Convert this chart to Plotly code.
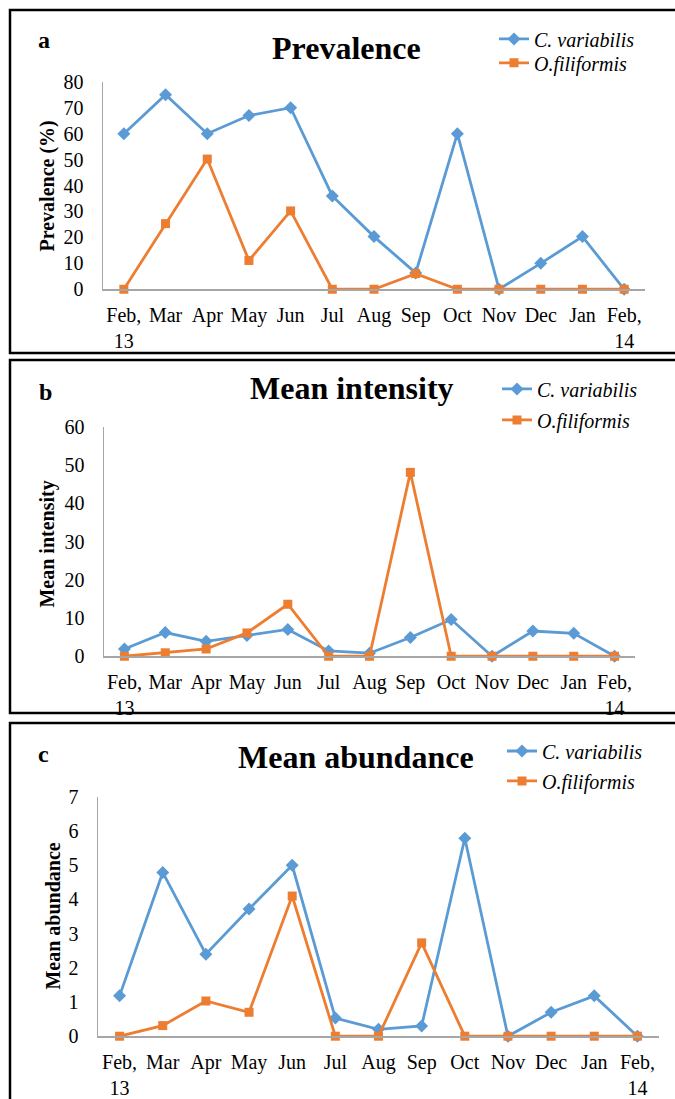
import plotly.graph_objects as go

W, H = 675, 1099

months = ["Feb,<br>13", "Mar", "Apr", "May", "Jun", "Jul", "Aug", "Sep",
          "Oct", "Nov", "Dec", "Jan", "Feb,<br>14"]

prev_cv = [60, 75, 60, 67, 70, 36, 20.3, 6.3, 60, 0, 10, 20.3, 0]
prev_of = [0, 25.3, 50.2, 11.1, 30.2, 0, 0, 6, 0, 0, 0, 0, 0]

int_cv = [1.9, 6.2, 3.9, 5.4, 7.0, 1.4, 0.8, 4.9, 9.6, 0, 6.6, 6.0, 0]
int_of = [0, 0.9, 1.9, 6.1, 13.6, 0, 0, 48.1, 0, 0, 0, 0, 0]

abd_cv = [1.18, 4.79, 2.4, 3.72, 5.0, 0.53, 0.2, 0.3, 5.79, 0, 0.7, 1.18, 0]
abd_of = [0, 0.31, 1.03, 0.7, 4.1, 0, 0, 2.73, 0, 0, 0, 0, 0]

series_names = ["C. variabilis", "O.filiformis"]
panel_titles = ["Prevalence", "Mean intensity", "Mean abundance"]
panel_letters = ["a", "b", "c"]
y_titles = ["Prevalence (%)", "Mean intensity", "Mean abundance"]
y_ranges = [(0, 80, 10), (0, 60, 10), (0, 7, 1)]

BLUE = "#5B9BD5"
ORANGE = "#ED7D31"
AXIS = "#A6A6A6"
FONT = "Liberation Serif"

# the page is photographed slightly squeezed vertically; map target pixel
# rows to layout rows so that the photographed picture lands on target
Y_OFF, Y_SCALE = 10.0, 0.979


def fx(px):
    return px / W


def fy(py):
    return 1 - ((py - Y_OFF) / Y_SCALE) / H


# plot-area geometry in pixels: (x0, x1, ytop, ybottom)
geo = [(103, 645, 81, 289), (104, 635, 427, 657), (98, 659, 798, 1038)]
# panel boxes (top, bottom)
boxes = [(9, 353), (360, 714), (724, 1120)]
title_pos = [(346, 47), (352, 388), (356, 758)]
letter_pos = [(44, 39), (45, 392), (44, 755)]
ytitle_pos = [(48, 186), (48, 545), (53, 918)]
# legend entries: (x of line start, y centre) for each series per panel
legend_pos = [[(499, 38), (499, 62)],
              [(502, 389), (502, 420)],
              [(507, 752), (507, 782)]]

data_sets = [(prev_cv, prev_of), (int_cv, int_of), (abd_cv, abd_of)]
colors = [BLUE, ORANGE]
symbols = ["diamond", "square"]
msizes = [10, 9]

fig = go.Figure()
layout = dict(
    width=W, height=H,
    margin=dict(l=0, r=0, t=0, b=0),
    paper_bgcolor="white", plot_bgcolor="white",
    font=dict(family=FONT, size=20, color="black"),
    showlegend=True,
    shapes=[], annotations=[],
)

leg_idx = 0
for i in range(3):
    sfx = "" if i == 0 else str(i + 1)
    xa = "x" + sfx
    ya = "y" + sfx
    for s in range(2):
        leg_idx += 1
        lg = "legend" if leg_idx == 1 else "legend%d" % leg_idx
        fig.add_trace(go.Scatter(
            x=months, y=data_sets[i][s], name=series_names[s],
            xaxis=xa, yaxis=ya, mode="lines+markers", legend=lg,
            showlegend=True,
            line=dict(color=colors[s], width=2.8),
            marker=dict(symbol=symbols[s], size=msizes[s], color=colors[s]),
            cliponaxis=False))
        lx, ly = legend_pos[i][s]
        layout[lg] = dict(
            x=fx(lx - 5), y=fy(ly), xanchor="left", yanchor="middle",
            xref="paper", yref="paper", visible=True,
            bgcolor="rgba(0,0,0,0)", borderwidth=0,
            font=dict(family=FONT, size=20, color="black", style="italic"),
            itemclick=False, itemdoubleclick=False)

    x0, x1, yt, yb = geo[i]
    r0, r1, dt = y_ranges[i]
    layout["xaxis" + sfx] = dict(
        domain=[fx(x0), fx(x1)], anchor=ya, type="category",
        range=[-0.5, len(months) - 0.5],
        showline=True, linecolor=AXIS, linewidth=1.5,
        showgrid=False, zeroline=False, ticks="",
        tickfont=dict(family=FONT, size=20, color="black"),
        ticklabelstandoff=7, fixedrange=True)
    layout["yaxis" + sfx] = dict(
        domain=[fy(yb), fy(yt)], anchor=xa,
        range=[r0, r1], dtick=dt, tick0=0,
        showline=True, linecolor=AXIS, linewidth=1.5,
        showgrid=False, zeroline=False, ticks="",
        tickfont=dict(family=FONT, size=20, color="black"),
        ticklabelstandoff=14, fixedrange=True)

    bt, bb = boxes[i]
    layout["shapes"].append(dict(
        type="rect", xref="paper", yref="paper",
        x0=fx(10), x1=fx(700), y0=fy(bb), y1=fy(bt),
        line=dict(color="black", width=2.5), fillcolor="rgba(0,0,0,0)",
        layer="above"))

    tx, ty = title_pos[i]
    layout["annotations"].append(dict(
        text="<b>%s</b>" % panel_titles[i], x=fx(tx), y=fy(ty),
        xref="paper", yref="paper", xanchor="center", yanchor="middle",
        showarrow=False, font=dict(family=FONT, size=32, color="black")))
    ax_, ay_ = letter_pos[i]
    layout["annotations"].append(dict(
        text="<b>%s</b>" % panel_letters[i], x=fx(ax_), y=fy(ay_),
        xref="paper", yref="paper", xanchor="center", yanchor="middle",
        showarrow=False, font=dict(family=FONT, size=24, color="black")))
    yx, yy = ytitle_pos[i]
    layout["annotations"].append(dict(
        text="<b>%s</b>" % y_titles[i], x=fx(yx), y=fy(yy),
        xref="paper", yref="paper", xanchor="center", yanchor="middle",
        textangle=-90, showarrow=False,
        font=dict(family=FONT, size=20, color="black")))

fig.update_layout(**layout)
fig.write_html(
    "out.html",
    config={"displayModeBar": False, "staticPlot": True},
    post_script="document.body.style.margin='0';"
                "document.body.style.overflow='hidden';")
